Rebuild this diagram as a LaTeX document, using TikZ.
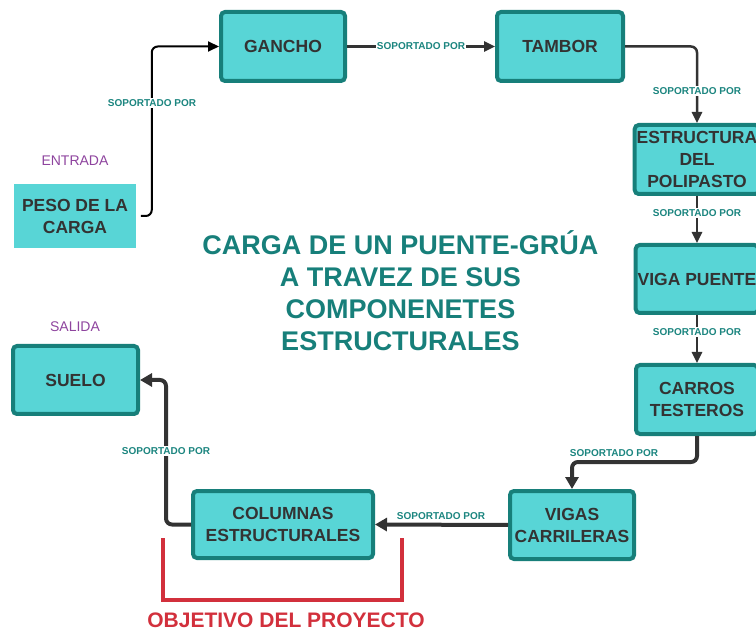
\documentclass[tikz,border=0pt]{standalone}
\usepackage{fontspec}
\setmainfont{Liberation Sans}
\usetikzlibrary{arrows.meta}

\definecolor{boxfill}{HTML}{58D5D6}
\definecolor{boxline}{HTML}{177F7A}
\definecolor{tealtxt}{HTML}{1B857F}
\definecolor{darktxt}{HTML}{333333}
\definecolor{purpletxt}{HTML}{8E449E}
\definecolor{redline}{HTML}{D2303C}

\tikzset{
    box/.style={draw=boxline, line width=4pt, fill=boxfill, rounded corners=4pt,
        text=darktxt, align=center, inner sep=2pt,
        font=\bfseries\fontsize{17.5}{22}\selectfont},
    startbox/.style={draw=boxfill, line width=0.5pt, fill=boxfill,
        text=darktxt, align=center, inner sep=2pt,
        font=\bfseries\fontsize{17.5}{22}\selectfont},
    lbl/.style={text=tealtxt, inner sep=1pt, font=\bfseries\fontsize{10}{12}\selectfont},
    tag/.style={text=purpletxt, font=\fontsize{14}{16}\selectfont},
    flow/.style={draw=darktxt, line width=2.5pt, rounded corners=6pt,
        -{Triangle[length=11pt,width=10pt]}},
    flowthick/.style={draw=darktxt, line width=4pt, rounded corners=6pt,
        -{Triangle[length=12pt,width=13pt]}}
}

\begin{document}
\begin{tikzpicture}[x=1pt, y=-1pt]
    \clip (0,0) rectangle (756,631);

    % Draw boxes
    \node (peso) [startbox, minimum width=121pt, minimum height=63pt] at (75,216) {PESO DE LA\\CARGA};
    \node (gancho) [box, minimum width=124pt, minimum height=69pt] at (283,46.5) {GANCHO};
    \node (tambor) [box, minimum width=126pt, minimum height=69pt] at (560,46.5) {TAMBOR};
    \node (polipasto) [box, minimum width=122pt, minimum height=69pt] at (697,159.5) {ESTRUCTURA\\DEL\\POLIPASTO};
    \node (viga) [box, minimum width=122pt, minimum height=68pt] at (697,279) {VIGA PUENTE};
    \node (carros) [box, minimum width=122pt, minimum height=69pt] at (697,399.5) {CARROS\\TESTEROS};
    \node (vigas) [box, minimum width=124pt, minimum height=68pt] at (572,525) {VIGAS\\CARRILERAS};
    \node (columnas) [box, minimum width=180pt, minimum height=67pt] at (283,524.5) {COLUMNAS\\ESTRUCTURALES};
    \node (suelo) [box, minimum width=125pt, minimum height=68pt] at (75.5,380) {SUELO};

    % Entrada y salida
    \node (entrada) [tag] at (75,161) {ENTRADA};
    \node (salida) [tag] at (75,327) {SALIDA};

    % Draw connectors
    \draw [flow, draw=black, line width=2pt] ([xshift=5pt]peso.east) -- ++(11,0) |- (gancho.west);
    \draw [flow] (gancho.east) -- (tambor.west);
    \draw [flow] (tambor.east) -| (polipasto.north);
    \draw [flow] (polipasto.south) -- (viga.north);
    \draw [flow] (viga.south) -- (carros.north);
    \draw [flowthick] (carros.south) -- ++(0,26) -| (vigas.north);
    \draw [flowthick] (vigas.west) -- (columnas.east);
    \draw [flowthick] (columnas.west) -- ++(-25,0) |- (suelo.east);

    % Labels on the connectors
    \node (s1) [lbl, fill=white] at (152,103) {SOPORTADO POR};
    \node (s2) [lbl, fill=white] at (421,46) {SOPORTADO POR};
    \node (s3) [lbl, fill=white] at (697,91) {SOPORTADO POR};
    \node (s4) [lbl, fill=white] at (697,213) {SOPORTADO POR};
    \node (s5) [lbl, fill=white] at (697,332) {SOPORTADO POR};
    \node (s6) [lbl] at (614,453) {SOPORTADO POR};
    \node (s7) [lbl] at (441,516) {SOPORTADO POR};
    \node (s8) [lbl, fill=white] at (166,451) {SOPORTADO POR};

    % Title
    \node (titulo) [text=boxline, align=center, font=\bfseries\fontsize{27}{32}\selectfont]
        at (400.5,291) {CARGA DE UN PUENTE-GRÚA\\A TRAVEZ DE SUS\\COMPONENETES\\ESTRUCTURALES};

    % Objetivo bracket
    \coordinate (objl) at (163,538);
    \coordinate (objr) at (402,538);
    \draw [redline, line width=4pt] (objl) -- ++(0,62) -| (objr);
    \node (objetivo) [text=redline, font=\bfseries\fontsize{21}{24}\selectfont] at (286,620) {OBJETIVO DEL PROYECTO};
\end{tikzpicture}
\end{document}
